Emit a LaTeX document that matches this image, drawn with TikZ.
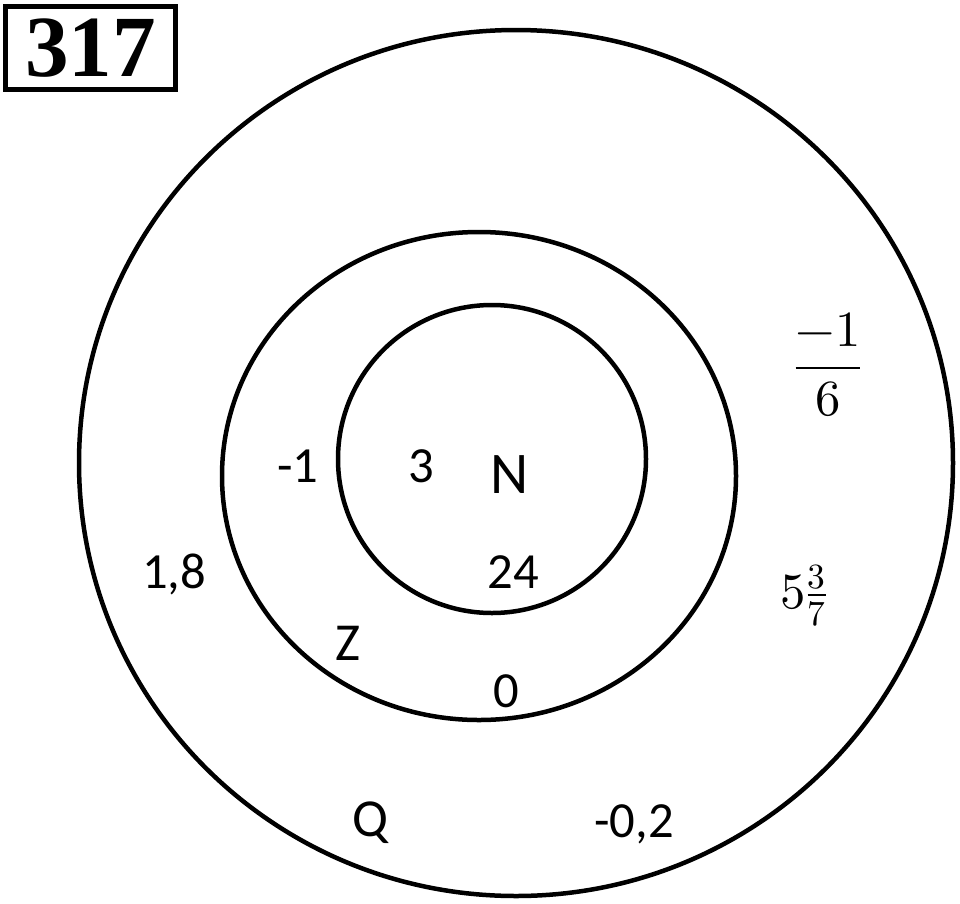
\documentclass[tikz,border=0pt]{standalone}
\usepackage{amsmath}
\usepackage{fontspec}
\usepackage{unicode-math}
\setmainfont{Carlito}
\setmathfont{Latin Modern Math}
\newfontfamily\boxfont{Liberation Serif}
\usetikzlibrary{positioning}
\tikzstyle{ring}=[line width=3.2pt]
\tikzstyle{elem}=[anchor=base,inner sep=0pt,font=\fontsize{36}{40}\selectfont]
\tikzstyle{setname}=[anchor=base,inner sep=0pt,font=\fontsize{42}{46}\selectfont]
\tikzstyle{numbox}=[draw,line width=3.5pt,minimum width=4.25cm,minimum height=2.075cm,inner sep=0pt,font=\boxfont\bfseries\fontsize{62}{66}\selectfont]

\begin{document}
\begin{tikzpicture}[x=0.025cm,y=-0.025cm]
    \useasboundingbox (0,0) rectangle (960,903);
    % task number
    \node (task)[numbox] at (90.5,48) {317};
    % the three sets
    \draw [ring] (516,463) ellipse [x radius=437, y radius=433];
    \draw [ring] (479,476) ellipse [x radius=257, y radius=244];
    \draw [ring] (492,459) circle [radius=154];
    % set names
    \node (nname)[setname] at (510,493) {N};
    \node (zname)[setname,font=\fontsize{38}{42}\selectfont] at (348,660) {Z};
    \node (qname)[setname,font=\fontsize{38}{42}\selectfont] at (370,836) {Q};
    % numbers
    \node (three)[elem] at (421,482) {3};
    \node (twfour)[elem] at (513,588) {24};
    \node (minone)[elem] at (298,482) {-1};
    \node (zero)[elem] at (506,707) {0};
    \node (onep8)[elem] at (174,588) {1,8};
    \node (minp2)[elem] at (634,837) {-0,2};
    \node (frac16)[inner sep=0pt,font=\fontsize{36}{40}\selectfont] at (828,365) {$\dfrac{-1}{6}$};
    \node (mixed)[elem] at (804,608) {$5\frac{3}{7}$};
\end{tikzpicture}
\end{document}
